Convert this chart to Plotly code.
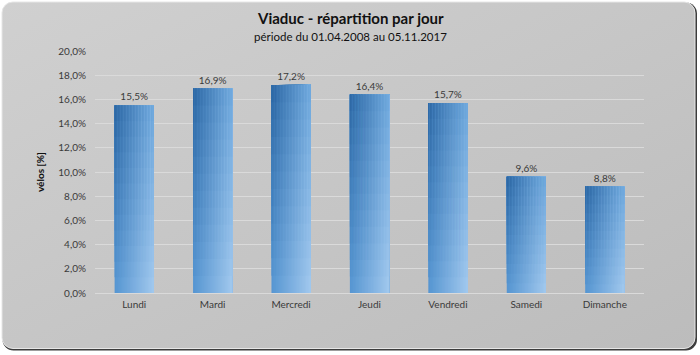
import base64
import plotly.graph_objects as go

# ---- data ----
jours = ["Lundi", "Mardi", "Mercredi", "Jeudi", "Vendredi", "Samedi", "Dimanche"]
part_velos = [15.5, 16.9, 17.2, 16.4, 15.7, 9.6, 8.8]
y_ticks = [0, 2, 4, 6, 8, 10, 12, 14, 16, 18, 20]
y_tick_labels = ["0,0%", "2,0%", "4,0%", "6,0%", "8,0%", "10,0%", "12,0%",
                 "14,0%", "16,0%", "18,0%", "20,0%"]

titre = "Viaduc - répartition par jour"
sous_titre = "période du 01.04.2008 au 05.11.2017"
titre_y = "vélos [%]"

W, H = 700, 355
ML, MR, MT, MB = 95, 56, 51, 62
PW, PH = W - ML - MR, H - MT - MB
FONT = "Lato, 'Open Sans', sans-serif"


def hx(c):
    return [int(c[i:i + 2], 16) for i in (1, 3, 5)]


TL, TR, BL, BR = hx("#2b66a3"), hx("#6ea8dd"), hx("#5797d3"), hx("#a3c9ee")


def col(u, v):
    top = [TL[i] + (TR[i] - TL[i]) * u for i in range(3)]
    bot = [BL[i] + (BR[i] - BL[i]) * u for i in range(3)]
    c = [round(top[i] + (bot[i] - top[i]) * v) for i in range(3)]
    return "rgb(%d,%d,%d)" % tuple(c)


fig = go.Figure()
BARW = 0.5
NH, NV = 26, 12
step = BARW / NH
for i in range(NH):
    u = (i + 0.5) / NH
    for k in range(NV):  # k = piece index from bottom; each piece reaches the top
        v = 1 - (k + 0.5) / NV  # 0 = top
        fig.add_trace(go.Bar(
            x=jours,
            y=[val * (NV - k) / NV for val in part_velos],
            base=[val * k / NV for val in part_velos],
            width=BARW - i * step,
            offset=-BARW / 2 + i * step,
            marker=dict(color=col(u, v), line=dict(width=0)),
            hoverinfo="skip",
            showlegend=False,
        ))

# labels trace
fig.add_trace(go.Bar(
    x=jours, y=part_velos, width=BARW,
    marker=dict(color="rgba(0,0,0,0)", line=dict(width=0)),
    text=[("%.1f%%" % v).replace(".", ",") for v in part_velos],
    texttemplate="%{text}", textposition="outside",
    textfont=dict(family=FONT, size=10, color="#3a3a3a"),
    cliponaxis=False, showlegend=False,
    hovertemplate="%{x}: %{text}<extra></extra>",
))

svg = f'''<svg xmlns="http://www.w3.org/2000/svg" width="{W}" height="{H}" viewBox="0 0 {W} {H}" preserveAspectRatio="none">
<defs><linearGradient id="g" x1="0" y1="0" x2="1" y2="1">
<stop offset="0" stop-color="#d0d0d0"/><stop offset="1" stop-color="#bcbcbc"/></linearGradient></defs>
<rect x="2.5" y="2.5" width="694.5" height="348" rx="11" ry="11" fill="#3c3c3c"/>
<rect x="2" y="2" width="693" height="346.5" rx="11" ry="11" fill="url(#g)" stroke="#e6e6e6" stroke-width="1"/>
</svg>'''
src = "data:image/svg+xml;base64," + base64.b64encode(svg.encode()).decode()

fig.add_layout_image(dict(
    source=src, xref="paper", yref="paper",
    x=-ML / PW, y=1 + MT / PH, sizex=W / PW, sizey=H / PH,
    xanchor="left", yanchor="top", sizing="stretch", layer="below",
))

fig.update_layout(
    width=W, height=H,
    margin=dict(l=ML, r=MR, t=MT, b=MB, autoexpand=False),
    barmode="overlay",
    paper_bgcolor="white",
    plot_bgcolor="rgba(0,0,0,0)",
    font=dict(family=FONT, size=10, color="#3a3a3a"),
    xaxis=dict(showgrid=False, showline=False, ticks="", tickfont=dict(size=10),
               ticklabelstandoff=4),
    yaxis=dict(range=[0, 20], tickvals=y_ticks, ticktext=y_tick_labels,
               showgrid=True, gridcolor="#dadada", gridwidth=1,
               zeroline=True, zerolinecolor="#dadada", zerolinewidth=1,
               showline=False, ticks="", tickfont=dict(size=10),
               ticklabelstandoff=8),
    showlegend=False,
    annotations=[
        dict(text="<b>" + titre + "</b>", xref="paper", yref="paper",
             x=(350 - ML) / PW, y=1 + (MT - 18) / PH, xanchor="center", yanchor="middle",
             showarrow=False, font=dict(family=FONT, size=15, color="#111111")),
        dict(text=sous_titre, xref="paper", yref="paper",
             x=(350 - ML) / PW, y=1 + (MT - 37) / PH, xanchor="center", yanchor="middle",
             showarrow=False, font=dict(family=FONT, size=11.5, color="#111111")),
        dict(text="<b>" + titre_y + "</b>", xref="paper", yref="paper",
             x=(40 - ML) / PW, y=0.5, xanchor="center", yanchor="middle", textangle=-90,
             showarrow=False, font=dict(family=FONT, size=10, color="#111111")),
    ],
)

fig.write_html("out.html", config={"displayModeBar": False},
               post_script="document.body.style.margin='0';document.body.style.overflow='hidden';")
